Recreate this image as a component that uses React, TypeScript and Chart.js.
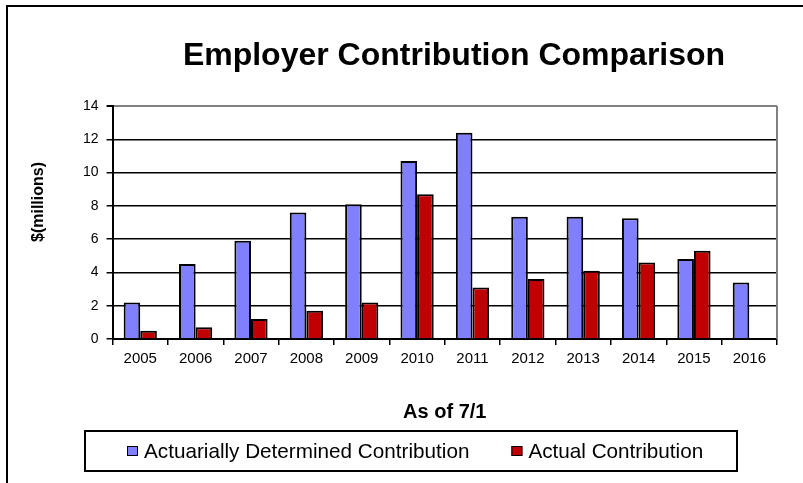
import { useEffect, useRef } from "react";
import { Chart, registerables } from "chart.js";

Chart.register(...registerables);

const years = ["2005", "2006", "2007", "2008", "2009", "2010", "2011", "2012", "2013", "2014", "2015", "2016"];
const actuariallyDetermined = [2.2, 4.5, 5.9, 7.6, 8.1, 10.7, 12.4, 7.35, 7.35, 7.25, 4.8, 3.4];
const actualContribution = [0.5, 0.7, 1.2, 1.7, 2.2, 8.7, 3.1, 3.6, 4.1, 4.6, 5.3, null];
const seriesNames = ["Actuarially Determined Contribution", "Actual Contribution"];
const seriesColors = ["#8080FF", "#C00000"];
const titleText = "Employer Contribution Comparison";
const yAxisTitle = "$(millions)";
const xAxisTitle = "As of 7/1";
const yMin = 0;
const yMax = 14;
const yStep = 2;

const FONT = "'Liberation Sans', Arial, Helvetica, sans-serif";

const decorPlugin = {
  id: "decor",
  beforeDraw(chart: any) {
    const ctx = chart.ctx;
    ctx.save();
    ctx.fillStyle = "#ffffff";
    ctx.fillRect(0, 0, chart.width, chart.height);
    // outer frame (left and top)
    ctx.strokeStyle = "#000000";
    ctx.lineWidth = 2;
    ctx.beginPath();
    ctx.moveTo(7, chart.height);
    ctx.lineTo(7, 6);
    ctx.lineTo(chart.width, 6);
    ctx.stroke();
    ctx.restore();
  },
  afterDraw(chart: any) {
    const { ctx, chartArea } = chart;
    ctx.save();
    // grey right border of plot area
    ctx.strokeStyle = "#808080";
    ctx.lineWidth = 2;
    ctx.beginPath();
    ctx.moveTo(chartArea.right, chartArea.top);
    ctx.lineTo(chartArea.right, chartArea.bottom);
    ctx.stroke();

    // chart title
    ctx.fillStyle = "#000000";
    ctx.font = `bold 32px ${FONT}`;
    ctx.textAlign = "center";
    ctx.textBaseline = "alphabetic";
    ctx.fillText(titleText, 454, 65);

    // y axis title
    ctx.save();
    ctx.translate(38.5, 202);
    ctx.rotate(-Math.PI / 2);
    ctx.font = `bold 16px ${FONT}`;
    ctx.textAlign = "center";
    ctx.textBaseline = "middle";
    ctx.fillText(yAxisTitle, 0, 0);
    ctx.restore();

    // legend box
    const boxL = 85;
    const boxT = 431;
    const boxR = 737;
    const boxB = 471;
    ctx.strokeStyle = "#000000";
    ctx.lineWidth = 2;
    ctx.strokeRect(boxL, boxT, boxR - boxL, boxB - boxT);
    ctx.font = `20.7px ${FONT}`;
    ctx.textBaseline = "middle";
    ctx.textAlign = "left";
    const cy = (boxT + boxB) / 2;
    let x = boxL + 42;
    chart.data.datasets.forEach((ds: any) => {
      ctx.fillStyle = ds.backgroundColor;
      ctx.fillRect(x, cy - 5, 11, 10);
      ctx.lineWidth = 1;
      ctx.strokeStyle = "#000000";
      ctx.strokeRect(x + 0.5, cy - 4.5, 10, 9);
      x += 11 + 6;
      ctx.fillStyle = "#000000";
      ctx.fillText(ds.label, x, cy + 1);
      x += ctx.measureText(ds.label).width + 42;
    });
    ctx.restore();
  },
};

export default function App() {
  const canvasRef = useRef<HTMLCanvasElement | null>(null);

  useEffect(() => {
    if (!canvasRef.current) return;
    const chart = new Chart(canvasRef.current, {
      type: "bar",
      data: {
        labels: years,
        datasets: [
          {
            label: seriesNames[0],
            data: actuariallyDetermined,
            backgroundColor: seriesColors[0],
            borderColor: "#000000",
            borderWidth: 2,
            categoryPercentage: 0.6,
            barPercentage: 1,
          },
          {
            label: seriesNames[1],
            data: actualContribution,
            backgroundColor: seriesColors[1],
            borderColor: "#000000",
            borderWidth: 2,
            categoryPercentage: 0.6,
            barPercentage: 1,
          },
        ],
      },
      options: {
        responsive: true,
        maintainAspectRatio: false,
        animation: false,
        layout: { padding: { left: 75, right: 26, top: 106, bottom: 55 } },
        plugins: {
          legend: { display: false },
          tooltip: { enabled: false },
          title: { display: false },
        },
        scales: {
          x: {
            grid: {
              display: true,
              drawOnChartArea: false,
              drawTicks: true,
              tickLength: 6,
              color: "#000000",
              lineWidth: 1.5,
              offset: true,
            },
            border: { color: "#000000", width: 2 },
            ticks: {
              color: "#000000",
              font: { family: FONT, size: 15 },
              padding: 5,
              maxRotation: 0,
              autoSkip: false,
            },
            title: {
              display: true,
              text: xAxisTitle,
              color: "#000000",
              font: { family: FONT, size: 20, weight: "bold" },
              padding: { top: 27, bottom: 4 },
            },
          },
          y: {
            min: yMin,
            max: yMax,
            ticks: {
              stepSize: yStep,
              color: "#000000",
              font: { family: FONT, size: 14 },
              padding: 8,
            },
            grid: {
              color: (c: any) => (c.tick && c.tick.value === yMax ? "#808080" : "#000000"),
              lineWidth: (c: any) => (c.tick && c.tick.value === yMax ? 2 : 1.5),
              tickLength: 6,
              tickColor: "#000000",
            },
            border: { color: "#000000", width: 2 },
            title: { display: false },
          },
        },
      },
      plugins: [decorPlugin],
    });
    return () => chart.destroy();
  }, []);

  return (
    <div style={{ position: "absolute", left: 0, top: 0, width: 803, height: 483 }}>
      <canvas ref={canvasRef} />
    </div>
  );
}
